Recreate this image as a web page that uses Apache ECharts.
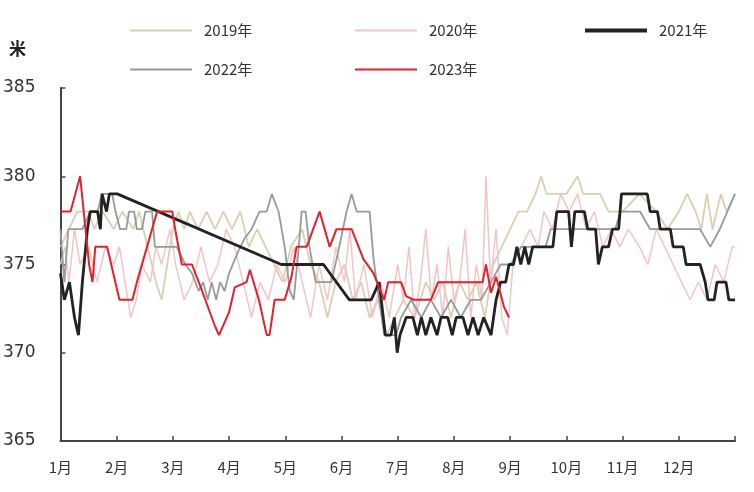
<!DOCTYPE html>
<html>
<head>
<meta charset="utf-8">
<script src="https://cdn.jsdelivr.net/npm/echarts@6/dist/echarts.min.js"></script>
<style>
  html, body { margin: 0; padding: 0; background: #fff; }
  #chart { width: 754px; height: 492px; }
</style>
</head>
<body>
<div id="chart"></div>
<script>
// x = 月份位置 (0 = 1月初, 12 = 年末), y = 米
const monthLabels = ['1月', '2月', '3月', '4月', '5月', '6月', '7月', '8月', '9月', '10月', '11月', '12月']
const yTicks = [365, 370, 375, 380, 385]

const d2019 = [
  [0, 376], [0.15, 377], [0.3, 378], [0.5, 378], [0.6, 377], [0.75, 378], [0.95, 377], [1.1, 378],
  [1.3, 377], [1.4, 378], [1.55, 376], [1.7, 374], [1.8, 373], [1.9, 375], [2.0, 377], [2.1, 378],
  [2.2, 377], [2.3, 378], [2.45, 377], [2.6, 378], [2.75, 377], [2.9, 378], [3.05, 377], [3.2, 378],
  [3.35, 376], [3.5, 377], [3.65, 376], [3.8, 375], [3.95, 374], [4.1, 376], [4.3, 377], [4.45, 375],
  [4.6, 374], [4.75, 372], [4.9, 374], [5.05, 375], [5.2, 373], [5.35, 374], [5.5, 372], [5.65, 373],
  [5.8, 371], [5.95, 372], [6.1, 373], [6.3, 372], [6.5, 374], [6.65, 373], [6.8, 374], [6.95, 372],
  [7.1, 374], [7.25, 373], [7.4, 374], [7.55, 372], [7.7, 375], [7.85, 376], [8.0, 377], [8.15, 378],
  [8.3, 378], [8.45, 379], [8.55, 380], [8.65, 379], [9.0, 379], [9.2, 380], [9.3, 379], [9.6, 379],
  [9.75, 378], [10.0, 378], [10.3, 379], [10.6, 378], [10.8, 377], [11.0, 378], [11.15, 379], [11.3, 378],
  [11.4, 377], [11.5, 379], [11.6, 377], [11.75, 379], [11.85, 378], [12.0, 379]
]

const d2020 = [
  [0, 375], [0.08, 376], [0.15, 374], [0.25, 377], [0.35, 375], [0.5, 376], [0.65, 374], [0.8, 376],
  [0.95, 375], [1.05, 376], [1.15, 374], [1.25, 372], [1.35, 373], [1.45, 375], [1.6, 374], [1.7, 376],
  [1.8, 375], [1.95, 377], [2.05, 375], [2.2, 373], [2.35, 374], [2.5, 376], [2.65, 374], [2.8, 375],
  [2.95, 377], [3.1, 376], [3.25, 374], [3.4, 372], [3.55, 374], [3.7, 373], [3.85, 375], [4.0, 374],
  [4.15, 376], [4.3, 374], [4.45, 372], [4.6, 375], [4.75, 373], [4.9, 376], [5.05, 374], [5.15, 377],
  [5.25, 373], [5.4, 375], [5.55, 372], [5.7, 374], [5.85, 372], [6.0, 375], [6.1, 373], [6.2, 376],
  [6.3, 372], [6.4, 374], [6.5, 377], [6.6, 373], [6.7, 375], [6.8, 372], [6.9, 376], [7.0, 373],
  [7.1, 374], [7.2, 377], [7.3, 372], [7.4, 375], [7.5, 373], [7.57, 380], [7.65, 374], [7.75, 377],
  [7.85, 372], [7.95, 371], [8.05, 375], [8.2, 376], [8.35, 377], [8.5, 376], [8.6, 378], [8.75, 377],
  [8.9, 379], [9.05, 378], [9.2, 379], [9.35, 377], [9.5, 378], [9.65, 376], [9.8, 377], [9.95, 376],
  [10.1, 377], [10.3, 376], [10.45, 375], [10.6, 377], [10.75, 376], [10.9, 375], [11.05, 374], [11.2, 373],
  [11.35, 374], [11.5, 373], [11.65, 375], [11.8, 374], [11.95, 376], [12.0, 376]
]

const d2021 = [
  [0, 374.5], [0.07, 373], [0.16, 374], [0.25, 372], [0.32, 371], [0.39, 374], [0.48, 377], [0.53, 378],
  [0.66, 378], [0.71, 377], [0.74, 379], [0.82, 378], [0.87, 379], [1.01, 379], [3.93, 375], [4.68, 375],
  [5.14, 373], [5.53, 373], [5.67, 374], [5.78, 371], [5.88, 371], [5.94, 372], [5.99, 370], [6.04, 371],
  [6.15, 372], [6.27, 372], [6.35, 371], [6.42, 372], [6.5, 371], [6.59, 372], [6.7, 371], [6.77, 372],
  [6.89, 372], [6.97, 371], [7.04, 372], [7.16, 372], [7.25, 371], [7.34, 372], [7.43, 371], [7.53, 372],
  [7.66, 371], [7.75, 373], [7.83, 374], [7.92, 374], [7.98, 375], [8.06, 375], [8.12, 376], [8.19, 375],
  [8.26, 376], [8.33, 375], [8.4, 376], [8.76, 376], [8.83, 378], [9.04, 378], [9.09, 376], [9.15, 378],
  [9.32, 378], [9.38, 377], [9.52, 377], [9.57, 375], [9.64, 376], [9.75, 376], [9.82, 377], [9.93, 377],
  [9.98, 379], [10.44, 379], [10.49, 378], [10.62, 378], [10.67, 377], [10.85, 377], [10.9, 376], [11.08, 376],
  [11.13, 375], [11.38, 375], [11.47, 374], [11.52, 373], [11.63, 373], [11.68, 374], [11.84, 374], [11.89, 373],
  [12.0, 373]
]

const d2022 = [
  [0, 377], [0.07, 374], [0.14, 377], [0.39, 377], [0.53, 378], [0.66, 378], [0.74, 379], [0.92, 379],
  [0.98, 378], [1.06, 377], [1.17, 377], [1.22, 378], [1.31, 378], [1.36, 377], [1.45, 377], [1.51, 378],
  [1.63, 378], [1.68, 376], [1.9, 376], [2.07, 376], [2.22, 375], [2.34, 374.5], [2.46, 373.5], [2.54, 374],
  [2.62, 373], [2.69, 374], [2.77, 373], [2.84, 374], [2.92, 373.5], [3.0, 374.5], [3.17, 375.8], [3.28, 376.5],
  [3.4, 377], [3.54, 378], [3.67, 378], [3.76, 379], [3.88, 378], [3.99, 376], [4.08, 373.5], [4.15, 373],
  [4.24, 376], [4.29, 378], [4.36, 378], [4.43, 376], [4.54, 374], [4.64, 374], [4.82, 374], [4.96, 376],
  [5.09, 378], [5.18, 379], [5.27, 378], [5.5, 378], [5.57, 375.3], [5.67, 373], [5.76, 371], [5.97, 371],
  [6.06, 372], [6.24, 373], [6.42, 372], [6.59, 373], [6.77, 372], [6.95, 373], [7.12, 372], [7.3, 373],
  [7.48, 373], [7.66, 374], [7.83, 375], [8.01, 375], [8.19, 376], [8.63, 376], [8.72, 377], [9.87, 377],
  [9.96, 378], [10.31, 378], [10.49, 377], [11.38, 377], [11.56, 376], [11.73, 377], [12.0, 379]
]

const d2023 = [
  [0, 378], [0.18, 378], [0.35, 380], [0.51, 375], [0.57, 374], [0.62, 376], [0.83, 376], [1.05, 373],
  [1.28, 373], [1.36, 374], [1.54, 376], [1.72, 378], [1.99, 378], [2.04, 377], [2.16, 375], [2.34, 375],
  [2.52, 373.5], [2.75, 371.5], [2.82, 371], [3.0, 372.3], [3.1, 373.7], [3.31, 374], [3.37, 374.7], [3.53, 373],
  [3.67, 371], [3.72, 371], [3.81, 373], [3.99, 373], [4.11, 374.3], [4.2, 376], [4.38, 376], [4.61, 378],
  [4.79, 376], [4.91, 377], [5.18, 377], [5.39, 375.3], [5.57, 374.5], [5.67, 373.7], [5.76, 373], [5.83, 374],
  [6.06, 374], [6.15, 373.2], [6.29, 373], [6.59, 373], [6.72, 374], [7.51, 374], [7.57, 375], [7.66, 373.4],
  [7.75, 374.3], [7.89, 372.6], [7.98, 372]
]

const chart = echarts.init(document.getElementById('chart'))

const font = '"Noto Sans CJK SC", "Noto Sans", sans-serif'
function legendAt(name, left, top, h) {
  return {
    data: [name],
    left: left,
    top: top,
    icon: 'rect',
    itemWidth: 62,
    itemHeight: h,
    textStyle: { fontFamily: font, fontSize: 15, color: '#333', padding: [0, 0, 0, 7] }
  }
}

const option = {
  animation: false,
  backgroundColor: '#fff',
  legend: [
    legendAt('2019年', 125, 18, 2),
    legendAt('2020年', 350, 18, 2),
    legendAt('2021年', 580, 18, 4),
    legendAt('2022年', 125, 57, 2),
    legendAt('2023年', 350, 57, 2)
  ],
  graphic: [
    {
      type: 'text',
      left: 9,
      top: 40,
      style: { text: '米', fontFamily: font, fontSize: 17, fontWeight: 'bold', fill: '#222' }
    }
  ],
  grid: { left: 58, right: 19, top: 88, bottom: 51 },
  xAxis: {
    type: 'value',
    min: 0,
    max: 12,
    interval: 1,
    splitLine: { show: false },
    axisLine: { lineStyle: { color: '#444', width: 2 } },
    axisTick: { inside: true, length: 5, lineStyle: { color: '#444', width: 1.5 } },
    axisLabel: {
      margin: 19,
      fontFamily: font,
      fontSize: 15,
      color: '#333',
      formatter: v => (v < 12 ? monthLabels[v] : '')
    }
  },
  yAxis: {
    type: 'value',
    min: yTicks[0],
    max: yTicks[yTicks.length - 1],
    interval: 5,
    splitLine: { show: false },
    axisLine: { show: true, lineStyle: { color: '#444', width: 2 } },
    axisTick: { show: true, inside: true, length: 5, lineStyle: { color: '#444', width: 1.5 } },
    axisLabel: { margin: 25, fontFamily: 'Tahoma, "DejaVu Sans", sans-serif', fontSize: 17, color: '#333' }
  },
  series: [
    { name: '2019年', type: 'line', data: d2019, showSymbol: false, color: '#dccfae', lineStyle: { width: 1.8 } },
    { name: '2020年', type: 'line', data: d2020, showSymbol: false, color: '#f2c4c4', lineStyle: { width: 1.5 } },
    { name: '2022年', type: 'line', data: d2022, showSymbol: false, color: '#949c9a', lineStyle: { width: 1.8 } },
    { name: '2021年', type: 'line', data: d2021, showSymbol: false, color: '#222222', lineStyle: { width: 2.8 } },
    { name: '2023年', type: 'line', data: d2023, showSymbol: false, color: '#e3202c', lineStyle: { width: 2 } }
  ]
}

chart.setOption(option)
</script>
</body>
</html>
